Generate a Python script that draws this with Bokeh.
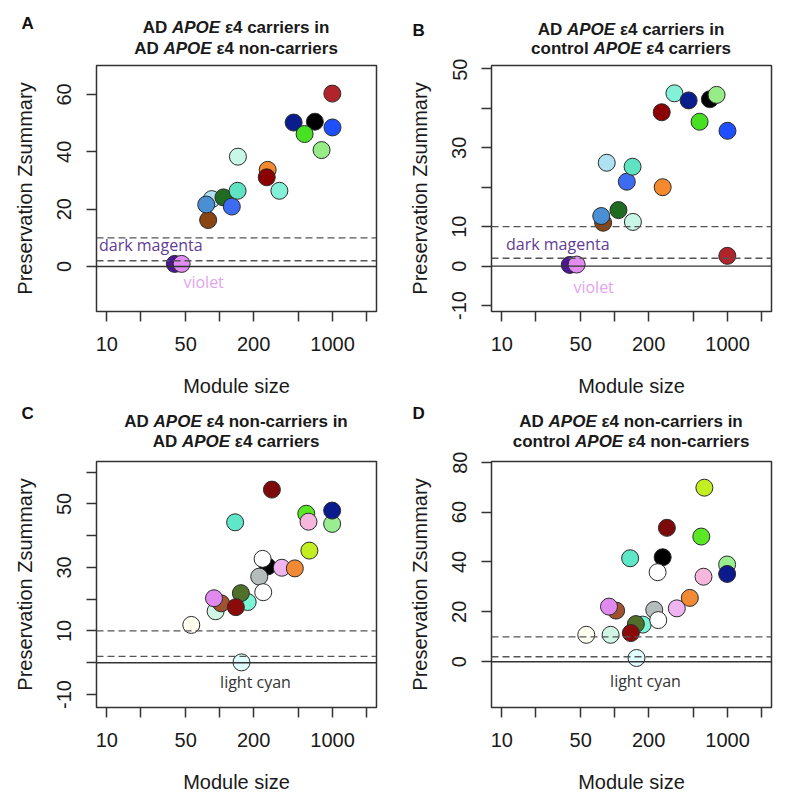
from bokeh.plotting import figure
from bokeh.models import (ColumnDataSource, FixedTicker, BasicTickFormatter,
                          Span, Label, Range1d)
from bokeh.layouts import column, row
from bokeh.embed import file_html
from bokeh.resources import INLINE

# ---------------- data ----------------
x_ticks = [10, 20, 50, 100, 200, 500, 1000, 2000]
x_tick_labels = ["10", "", "50", "", "200", "", "1000", ""]

# network 1 (panels A and B): modules of AD APOE e4 carriers
mods1 = ["darkmagenta", "violet", "saddlebrown", "paleturquoise", "steelblue",
         "darkgreen", "royalblue", "lightcyan", "aquamarine", "darkorange",
         "darkred", "turquoise", "navy", "black", "green", "lightgreen",
         "blue", "firebrick"]
size1 = [40, 46, 79, 85, 76, 108, 128, 145, 144, 266, 261, 338, 452, 697,
         565, 799, 998, 995]
col1 = ["#4e1596", "#e08cf0", "#8b4513", "#aee2f2", "#4a8fd3", "#1f6b1f",
        "#3d6bf2", "#c8f7e8", "#5fe3c3", "#f5892e", "#8b0000", "#84f0d8",
        "#0b1d8c", "#000000", "#47e022", "#98ec88", "#1f4fff", "#b0242a"]
zA = [0.9, 0.9, 16.2, 23.5, 21.6, 24.1, 20.9, 38.3, 26.4, 33.7, 31.1, 26.4,
      50.2, 50.5, 46.2, 40.6, 48.5, 60.3]
zB = [0.3, 0.4, 11.0, 26.2, 12.7, 14.2, 21.4, 11.2, 25.2, 20.0, 39.0, 43.8,
      42.0, 42.3, 36.6, 43.4, 34.3, 2.6]

# network 2 (panels C and D): modules of AD APOE e4 non-carriers
mods2 = ["lightgreen", "navy", "ivory", "honeydew", "sienna", "violet",
         "aquamarine2", "darkolivegreen", "darkred2", "lightcyan", "aquamarine",
         "black", "grey", "white2", "white", "darkred", "plum", "orange",
         "green", "pink", "greenyellow"]
size2 = [991, 991, 56, 92, 103, 89, 177, 154, 139, 156, 137, 266, 224, 243,
         240, 290, 355, 463, 585, 612, 623]
col2 = ["#98ee90", "#0b1a8c", "#fffff0", "#d2f6e6", "#a0522d", "#e08af0",
        "#7af5d5", "#4f6f2a", "#8b0a0a", "#e0ffff", "#5ee8c8", "#000000",
        "#b4bcbc", "#ffffff", "#ffffff", "#7d0a0a", "#f0b4f0", "#f08a35",
        "#5ae826", "#f7b6dc", "#c2ee22"]
zC = [43.7, 47.9, 11.9, 16.2, 18.7, 20.3, 19.1, 21.9, 17.5, 0.1, 44.2, 30.3,
      27.1, 22.2, 32.7, 54.5, 29.9, 29.7, 46.9, 44.4, 35.3]
zD = [39.0, 35.2, 10.8, 10.8, 20.5, 22.1, 14.9, 15.1, 11.5, 1.5, 41.5, 41.9,
      20.8, 16.7, 35.9, 53.7, 21.4, 25.6, 50.2, 34.1, 69.8]

yticks_A = [0, 20, 40, 60]
ylabels_A = ["0", "20", "40", "60"]
yticks_B = [-10, 0, 10, 20, 30, 40, 50]
ylabels_B = ["-10", "0", "10", "", "30", "", "50"]
yticks_C = [-10, 0, 10, 20, 30, 40, 50, 60]
ylabels_C = ["-10", "", "10", "", "30", "", "50", ""]
yticks_D = [0, 20, 40, 60, 80]
ylabels_D = ["0", "20", "40", "60", "80"]

thresholds = [10, 2]

# ---------------- helpers ----------------
W = {' ': 0.278, 'A': 0.722, 'D': 0.722, 'P': 0.667, 'O': 0.778, 'E': 0.667,
     '4': 0.556, 'c': 0.556, 'a': 0.556, 'r': 0.389, 'i': 0.278, 'e': 0.556,
     's': 0.556, 'n': 0.611, 'o': 0.611, 't': 0.333, 'l': 0.278, '-': 0.333,
     'ε': 0.53}
TFS = 17
GAP = 0.278 * TFS


def tw(s):
    return sum(W.get(ch, 0.55) for ch in s) * TFS


XR = (8.1, 2450)
FW, FH = 280, 246
B_ = "bold"
BI = "bold italic"


def strip(width, height, letter, letter_x, letter_y, lines, line_ys, cx):
    """Title strip: a bare figure whose data units are pixels from top-left."""
    s = figure(frame_width=width, frame_height=height,
               x_range=Range1d(0, width), y_range=Range1d(height, 0),
               min_border_left=0, min_border_right=0, min_border_top=0,
               min_border_bottom=0, x_axis_location=None, y_axis_location=None,
               output_backend="svg", toolbar_location=None,
               background_fill_color="white", border_fill_color="white")
    s.outline_line_color = None
    s.xgrid.visible = False
    s.ygrid.visible = False
    s.add_layout(Label(x=letter_x, y=letter_y, text=letter,
                       text_font="Liberation Sans", text_font_style="bold",
                       text_font_size="17px", text_color="#111111",
                       text_align="left", text_baseline="middle"))
    for pieces, y in zip(lines, line_ys):
        total = sum(tw(t) for t, _ in pieces) + GAP * (len(pieces) - 1)
        x = cx - total / 2
        for t, style in pieces:
            s.add_layout(Label(x=x, y=y, text=t, text_font="Liberation Sans",
                               text_font_style=style,
                               text_font_size=f"{TFS}px", text_color="#1a1a1a",
                               text_align="left", text_baseline="middle"))
            x += tw(t) + GAP
    return s


def panel(mods, sizes, zs, cols, yr, yt, yl, notes,
          left_b, right_b, top_b, bottom_b):
    p = figure(x_axis_type="log", x_range=Range1d(*XR), y_range=Range1d(*yr),
               frame_width=FW, frame_height=FH,
               min_border_left=left_b, min_border_right=right_b,
               min_border_top=top_b, min_border_bottom=bottom_b,
               output_backend="svg", toolbar_location=None,
               background_fill_color="white", border_fill_color="white")
    p.xgrid.visible = False
    p.ygrid.visible = False
    p.outline_line_color = "#333333"
    p.outline_line_width = 1.5

    for loc in thresholds:
        p.add_layout(Span(location=loc, dimension="width", line_color="#555555",
                          line_width=1.3, line_dash="7 4"))
    p.add_layout(Span(location=0, dimension="width", line_color="#333333",
                      line_width=1.4))

    src = ColumnDataSource(dict(x=sizes, y=zs, c=cols, m=mods))
    p.scatter("x", "y", source=src, size=17, fill_color="c",
              line_color="#2b2b2b", line_width=1)

    xa = p.xaxis[0]
    xa.ticker = FixedTicker(ticks=x_ticks)
    xa.formatter = BasicTickFormatter()
    xa.major_label_overrides = dict(zip(x_ticks, x_tick_labels))
    xa.axis_label = "Module size"
    xa.major_label_standoff = 15
    xa.axis_label_standoff = 21

    ya = p.yaxis[0]
    ya.ticker = FixedTicker(ticks=yt)
    ya.formatter = BasicTickFormatter()
    ya.major_label_overrides = dict(zip(yt, yl))
    ya.axis_label = "Preservation Zsummary"
    ya.major_label_orientation = "vertical"
    ya.major_label_standoff = 15
    ya.axis_label_standoff = 19

    for ax in (xa, ya):
        ax.axis_line_color = None
        ax.major_tick_line_color = "#333333"
        ax.major_tick_line_width = 1.5
        ax.major_tick_out = 10
        ax.major_tick_in = 0
        ax.minor_tick_line_color = None
        ax.major_label_text_font = "Liberation Sans"
        ax.major_label_text_font_size = "20px"
        ax.major_label_text_color = "#1a1a1a"
        ax.axis_label_text_font = "Liberation Sans"
        ax.axis_label_text_font_size = "20px"
        ax.axis_label_text_font_style = "normal"
        ax.axis_label_text_color = "#1a1a1a"

    for txt, mod, dx, dy, color in notes:
        i = mods.index(mod)
        p.add_layout(Label(x=sizes[i], y=zs[i], x_offset=dx, y_offset=dy,
                           text=txt, text_font="Open Sans",
                           text_font_size="16px", text_color=color,
                           text_align="center", text_baseline="middle"))
    return p


# cell geometry (pixels)
LW, RW = 392, 393          # left / right column widths
LB_L, LB_R = 96, 99        # left borders of the frames
ST1, ST2 = 58, 48          # title strip heights (top row, bottom row)

sA = strip(LW, ST1, "A", 21, 23,
           [[("AD", B_), ("APOE", BI), ("ε4 carriers in", B_)],
            [("AD", B_), ("APOE", BI), ("ε4 non-carriers", B_)]],
           [26.5, 48.2], LB_L + FW / 2)
sB = strip(RW, ST1, "B", 20, 29.5,
           [[("AD", B_), ("APOE", BI), ("ε4 carriers in", B_)],
            [("control", B_), ("APOE", BI), ("ε4 carriers", B_)]],
           [28.5, 48.2], LB_R + FW / 2)
sC = strip(LW, ST2, "C", 21, 10,
           [[("AD", B_), ("APOE", BI), ("ε4 non-carriers in", B_)],
            [("AD", B_), ("APOE", BI), ("ε4 carriers", B_)]],
           [17.8, 38.3], LB_L + FW / 2)
sD = strip(RW, ST2, "D", 20, 10,
           [[("AD", B_), ("APOE", BI), ("ε4 non-carriers in", B_)],
            [("control", B_), ("APOE", BI), ("ε4 non-carriers", B_)]],
           [17.5, 38.3], LB_R + FW / 2)

pA = panel(mods1, size1, zA, col1, (-15.7, 70.1), yticks_A, ylabels_A,
           [("dark magenta", "darkmagenta", -24, 18.5, "#5f3c96"),
            ("violet", "violet", 22, -18, "#e2a4ee")],
           LB_L, LW - LB_L - FW, 7, 92)
pB = panel(mods1, size1, zB, col1, (-11.5, 50.85), yticks_B, ylabels_B,
           [("dark magenta", "darkmagenta", -12, 21, "#5f3c96"),
            ("violet", "violet", 17, -22, "#e2a4ee")],
           LB_R, RW - LB_R - FW, 7, 92)
pC = panel(mods2, size2, zC, col2, (-14.1, 63.35), yticks_C, ylabels_C,
           [("light cyan", "lightcyan", 14, -20, "#333333")],
           LB_L, LW - LB_L - FW, 10, 91)
pD = panel(mods2, size2, zD, col2, (-18.35, 80.3), yticks_D, ylabels_D,
           [("light cyan", "lightcyan", 9, -23, "#333333")],
           LB_R, RW - LB_R - FW, 10, 91)

layout = column(row(sA, sB), row(pA, pB), row(sC, sD), row(pC, pD))

open("out.html", "w").write(file_html(layout, INLINE))
